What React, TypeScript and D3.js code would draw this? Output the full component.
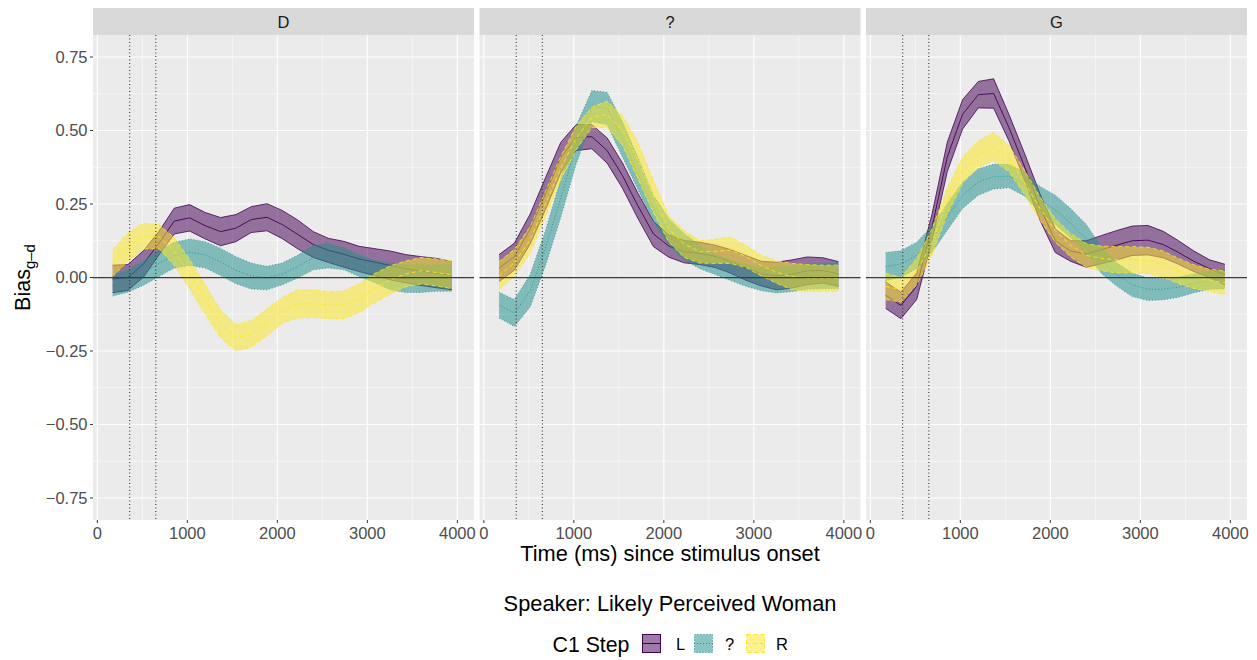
import React from "react";
import * as d3 from "d3";

// ---------- data ----------
const TIME_MS = [170, 340, 515, 685, 855, 1025, 1200, 1370, 1540, 1710, 1885, 2055, 2225, 2400, 2570, 2740, 2910, 3085, 3255, 3425, 3595, 3770, 3940];
const PANELS = ["D", "?", "G"];
const STEPS = ["L", "?", "R"];
const X_TICKS = [0, 1000, 2000, 3000, 4000];
const X_MINOR = [500, 1500, 2500, 3500];
const Y_TICKS = [-0.75, -0.5, -0.25, 0, 0.25, 0.5, 0.75];
const Y_TICK_LABELS = ["\u22120.75", "\u22120.50", "\u22120.25", "0.00", "0.25", "0.50", "0.75"];
const Y_MINOR = [-0.625, -0.375, -0.125, 0.125, 0.375, 0.625];
const ONSET_LINES = [360, 650];

// Panel D
const D_L_MEAN = [-0.005, 0, 0.047, 0.117, 0.192, 0.203, 0.176, 0.156, 0.168, 0.197, 0.205, 0.18, 0.147, 0.112, 0.092, 0.079, 0.063, 0.052, 0.041, 0.03, 0.022, 0.015, 0.006];
const D_L_HALF = [0.047, 0.044, 0.045, 0.04, 0.044, 0.045, 0.045, 0.048, 0.046, 0.044, 0.046, 0.048, 0.049, 0.044, 0.041, 0.044, 0.043, 0.046, 0.049, 0.048, 0.049, 0.05, 0.048];
const D_Q_MEAN = [-0.028, -0.012, 0.016, 0.048, 0.076, 0.086, 0.077, 0.053, 0.025, 0.005, -0.002, 0.012, 0.037, 0.068, 0.073, 0.063, 0.04, 0.02, 0.003, -0.004, -0.004, -0.002, -0.001];
const D_Q_HALF = [0.035, 0.038, 0.042, 0.045, 0.044, 0.045, 0.045, 0.046, 0.046, 0.044, 0.04, 0.037, 0.039, 0.042, 0.041, 0.037, 0.037, 0.038, 0.045, 0.047, 0.047, 0.045, 0.046];
const D_R_MEAN = [0.049, 0.103, 0.141, 0.139, 0.088, 0.012, -0.075, -0.158, -0.205, -0.192, -0.152, -0.112, -0.09, -0.089, -0.094, -0.093, -0.07, -0.036, -0.008, 0.012, 0.023, 0.017, 0.009];
const D_R_HALF = [0.046, 0.048, 0.044, 0.041, 0.047, 0.05, 0.05, 0.047, 0.045, 0.045, 0.046, 0.044, 0.048, 0.047, 0.046, 0.047, 0.049, 0.05, 0.048, 0.044, 0.045, 0.046, 0.047];

// Panel ?
const Q_L_MEAN = [0.032, 0.071, 0.165, 0.285, 0.408, 0.476, 0.479, 0.432, 0.347, 0.245, 0.148, 0.107, 0.088, 0.082, 0.072, 0.055, 0.033, 0.013, 0.005, 0.012, 0.023, 0.024, 0.012];
const Q_L_HALF = [0.046, 0.046, 0.051, 0.054, 0.052, 0.044, 0.041, 0.043, 0.043, 0.043, 0.043, 0.038, 0.038, 0.038, 0.038, 0.04, 0.042, 0.042, 0.047, 0.048, 0.047, 0.043, 0.042];
const Q_Q_MEAN = [-0.094, -0.121, -0.045, 0.1, 0.27, 0.45, 0.583, 0.575, 0.47, 0.355, 0.235, 0.155, 0.105, 0.07, 0.045, 0.025, 0.008, -0.005, -0.009, -0.004, 0.003, 0.005, 0.007];
const Q_Q_HALF = [0.044, 0.046, 0.055, 0.06, 0.065, 0.065, 0.053, 0.055, 0.06, 0.055, 0.045, 0.045, 0.045, 0.04, 0.035, 0.035, 0.038, 0.04, 0.044, 0.044, 0.043, 0.043, 0.044];
const Q_R_MEAN = [0.006, 0.05, 0.128, 0.25, 0.372, 0.474, 0.545, 0.555, 0.5, 0.4, 0.275, 0.165, 0.114, 0.087, 0.089, 0.093, 0.072, 0.04, 0.018, 0.003, -0.002, -0.003, -0.003];
const Q_R_HALF = [0.048, 0.046, 0.045, 0.043, 0.04, 0.04, 0.035, 0.045, 0.05, 0.062, 0.055, 0.045, 0.046, 0.038, 0.041, 0.045, 0.038, 0.035, 0.038, 0.045, 0.046, 0.045, 0.045];

// Panel G
const G_L_MEAN = [-0.06, -0.095, -0.03, 0.17, 0.41, 0.555, 0.622, 0.626, 0.51, 0.38, 0.24, 0.125, 0.09, 0.08, 0.095, 0.11, 0.125, 0.127, 0.112, 0.085, 0.055, 0.03, 0.01];
const G_L_HALF = [0.045, 0.045, 0.045, 0.045, 0.05, 0.05, 0.045, 0.05, 0.045, 0.045, 0.045, 0.04, 0.035, 0.045, 0.048, 0.05, 0.05, 0.05, 0.045, 0.04, 0.035, 0.03, 0.035];
const G_Q_MEAN = [0.037, 0.046, 0.075, 0.13, 0.206, 0.28, 0.325, 0.343, 0.345, 0.318, 0.265, 0.23, 0.185, 0.13, 0.058, 0.01, -0.025, -0.04, -0.04, -0.033, -0.02, -0.01, -0.006];
const G_Q_HALF = [0.048, 0.045, 0.045, 0.045, 0.045, 0.045, 0.045, 0.042, 0.04, 0.04, 0.045, 0.05, 0.05, 0.05, 0.045, 0.04, 0.04, 0.038, 0.036, 0.034, 0.032, 0.03, 0.032];
const G_R_MEAN = [-0.03, -0.042, 0.02, 0.12, 0.26, 0.365, 0.42, 0.445, 0.405, 0.325, 0.235, 0.16, 0.11, 0.075, 0.065, 0.06, 0.06, 0.058, 0.045, 0.022, 0.003, -0.01, -0.018];
const G_R_HALF = [0.045, 0.042, 0.045, 0.045, 0.045, 0.045, 0.045, 0.048, 0.045, 0.042, 0.04, 0.04, 0.04, 0.04, 0.042, 0.045, 0.045, 0.045, 0.045, 0.043, 0.04, 0.038, 0.04];

const SERIES: Record<string, Record<string, [number[], number[]]>> = {
  D: { L: [D_L_MEAN, D_L_HALF], "?": [D_Q_MEAN, D_Q_HALF], R: [D_R_MEAN, D_R_HALF] },
  "?": { L: [Q_L_MEAN, Q_L_HALF], "?": [Q_Q_MEAN, Q_Q_HALF], R: [Q_R_MEAN, Q_R_HALF] },
  G: { L: [G_L_MEAN, G_L_HALF], "?": [G_Q_MEAN, G_Q_HALF], R: [G_R_MEAN, G_R_HALF] },
};

// ---------- styling ----------
const COLORS: Record<string, string> = { L: "#440154", "?": "#21908C", R: "#FDE725" };
const DASH: Record<string, string | undefined> = { L: undefined, "?": "1,2", R: "4,3" };
const FONT = "'Liberation Sans', Arial, Helvetica, sans-serif";

const W = 1257;
const H = 660;
const PANEL_LEFTS = [93, 479.5, 866];
const PANEL_W = 381;
const STRIP_TOP = 8;
const PANEL_TOP = 35;
const PANEL_BOTTOM = 520;

const yScale = d3.scaleLinear().domain([-0.825, 0.825]).range([PANEL_BOTTOM, PANEL_TOP]);

type Pt = { t: number; m: number; h: number };

function Panel({ name, left, showY }: { name: string; left: number; showY: boolean }) {
  const x = d3.scaleLinear().domain([-48, 4185]).range([left, left + PANEL_W]);
  const y = yScale;
  const right = left + PANEL_W;
  return (
    <g>
      <rect x={left} y={STRIP_TOP} width={PANEL_W} height={PANEL_TOP - STRIP_TOP} fill="#D9D9D9" />
      <text x={(left + right) / 2} y={28} textAnchor="middle" fontSize={16.5} fill="#1A1A1A" fontFamily={FONT}>
        {name}
      </text>
      <rect x={left} y={PANEL_TOP} width={PANEL_W} height={PANEL_BOTTOM - PANEL_TOP} fill="#EBEBEB" />
      {Y_MINOR.map((v) => (
        <line key={"ym" + v} x1={left} x2={right} y1={y(v)} y2={y(v)} stroke="#fff" strokeWidth={0.55} />
      ))}
      {X_MINOR.map((v) => (
        <line key={"xm" + v} x1={x(v)} x2={x(v)} y1={PANEL_TOP} y2={PANEL_BOTTOM} stroke="#fff" strokeWidth={0.55} />
      ))}
      {Y_TICKS.map((v) => (
        <line key={"yM" + v} x1={left} x2={right} y1={y(v)} y2={y(v)} stroke="#fff" strokeWidth={1.1} />
      ))}
      {X_TICKS.map((v) => (
        <line key={"xM" + v} x1={x(v)} x2={x(v)} y1={PANEL_TOP} y2={PANEL_BOTTOM} stroke="#fff" strokeWidth={1.1} />
      ))}
      {STEPS.map((s) => {
        const [mean, half] = SERIES[name][s];
        const pts: Pt[] = TIME_MS.map((t, i) => ({ t, m: mean[i], h: half[i] }));
        const area = d3
          .area<Pt>()
          .x((d) => x(d.t))
          .y0((d) => y(d.m - d.h))
          .y1((d) => y(d.m + d.h));
        const lineU = d3.line<Pt>().x((d) => x(d.t)).y((d) => y(d.m + d.h));
        const lineL = d3.line<Pt>().x((d) => x(d.t)).y((d) => y(d.m - d.h));
        const lineM = d3.line<Pt>().x((d) => x(d.t)).y((d) => y(d.m));
        return (
          <g key={s}>
            <path d={area(pts) || ""} fill={COLORS[s]} fillOpacity={0.52} stroke="none" />
            <path d={lineU(pts) || ""} fill="none" stroke={COLORS[s]} strokeWidth={0.8} strokeDasharray={DASH[s]} />
            <path d={lineL(pts) || ""} fill="none" stroke={COLORS[s]} strokeWidth={0.8} strokeDasharray={DASH[s]} />
            <path d={lineM(pts) || ""} fill="none" stroke={COLORS[s]} strokeWidth={0.9} strokeDasharray={DASH[s]} />
          </g>
        );
      })}
      <line x1={left} x2={right} y1={y(0)} y2={y(0)} stroke="#3a3a3a" strokeWidth={1.25} />
      {ONSET_LINES.map((v) => (
        <line key={"on" + v} x1={x(v)} x2={x(v)} y1={PANEL_TOP} y2={PANEL_BOTTOM} stroke="#222" strokeWidth={1} strokeDasharray="1,2.5" />
      ))}
      {X_TICKS.map((v) => (
        <g key={"xt" + v}>
          <line x1={x(v)} x2={x(v)} y1={PANEL_BOTTOM} y2={PANEL_BOTTOM + 3} stroke="#333" strokeWidth={1} />
          <text x={x(v)} y={539} textAnchor="middle" fontSize={16.5} fill="#4D4D4D" fontFamily={FONT}>
            {v}
          </text>
        </g>
      ))}
      {showY &&
        Y_TICKS.map((v, i) => (
          <g key={"yt" + v}>
            <line x1={left - 3} x2={left} y1={y(v)} y2={y(v)} stroke="#333" strokeWidth={1} />
            <text x={left - 5.5} y={y(v)} dy="0.36em" textAnchor="end" fontSize={16.5} fill="#4D4D4D" fontFamily={FONT}>
              {Y_TICK_LABELS[i]}
            </text>
          </g>
        ))}
    </g>
  );
}

function LegendKey({ step, x, y }: { step: string; x: number; y: number }) {
  const size = 19;
  return (
    <g>
      <rect x={x} y={y} width={size} height={size} fill="#fff" />
      <rect
        x={x + 0.5}
        y={y + 0.5}
        width={size - 1}
        height={size - 1}
        fill={COLORS[step]}
        fillOpacity={0.52}
        stroke={COLORS[step]}
        strokeWidth={1}
        strokeDasharray={DASH[step]}
      />
      <line x1={x} x2={x + size} y1={y + size / 2} y2={y + size / 2} stroke={COLORS[step]} strokeWidth={1} strokeDasharray={DASH[step]} />
    </g>
  );
}

export default function App() {
  const midX = (PANEL_LEFTS[0] + PANEL_LEFTS[2] + PANEL_W) / 2;
  const legendItems = [
    { s: "L", kx: 642, lx: 676 },
    { s: "?", kx: 694, lx: 725 },
    { s: "R", kx: 746, lx: 776 },
  ];
  return (
    <svg width={W} height={H} style={{ position: "absolute", left: 0, top: 0, background: "#fff" }} fontFamily={FONT}>
      <rect x={0} y={0} width={W} height={H} fill="#fff" />
      {PANELS.map((p, i) => (
        <Panel key={p} name={p} left={PANEL_LEFTS[i]} showY={i === 0} />
      ))}
      <text x={midX} y={560.5} textAnchor="middle" fontSize={21.8} fill="#000">
        Time (ms) since stimulus onset
      </text>
      <text transform="rotate(-90)" x={-(PANEL_TOP + PANEL_BOTTOM) / 2} y={29.5} textAnchor="middle" fontSize={21.5} fill="#000">
        Bias
        <tspan dy={5} fontSize={15}>g–d</tspan>
      </text>
      <text x={midX} y={610.5} textAnchor="middle" fontSize={21.8} fill="#000">
        Speaker: Likely Perceived Woman
      </text>
      <text x={552.5} y={651.5} fontSize={21.3} fill="#000">
        C1 Step
      </text>
      {legendItems.map((it) => (
        <g key={it.s}>
          <LegendKey step={it.s} x={it.kx} y={634} />
          <text x={it.lx} y={649.5} fontSize={16.5} fill="#000">
            {it.s}
          </text>
        </g>
      ))}
    </svg>
  );
}
